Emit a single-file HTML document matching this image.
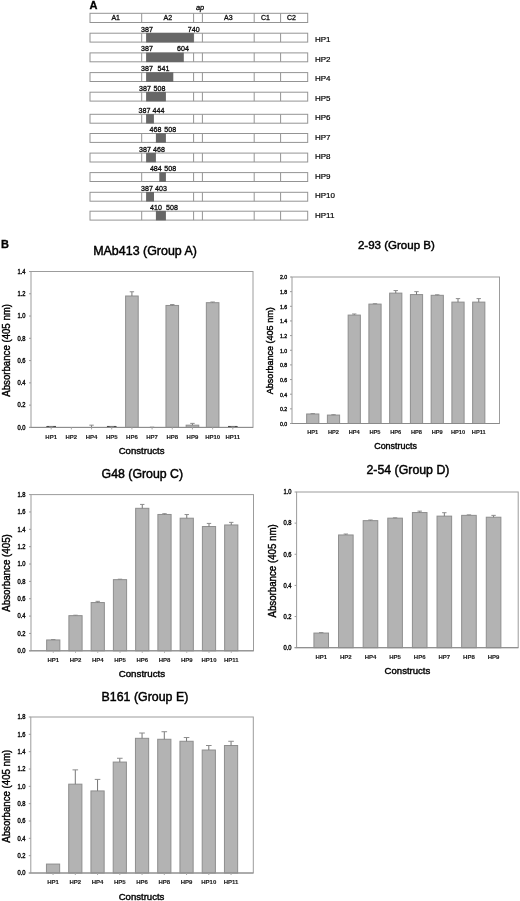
<!DOCTYPE html>
<html><head><meta charset="utf-8"><title>Figure</title>
<style>
html,body{margin:0;padding:0;background:#fff;}
body{width:520px;height:901px;overflow:hidden;}
svg{display:block;font-family:"Liberation Sans", sans-serif;filter:grayscale(1);}
text{-webkit-font-smoothing:antialiased;}
</style></head>
<body>
<svg width="520" height="901" viewBox="0 0 520 901" shape-rendering="auto">
<rect x="0" y="0" width="520" height="901" fill="#fff"/>
<text x="89.60" y="9.00" font-size="11" text-anchor="start" stroke="#000" stroke-width="0.3" font-weight="bold" fill="#000">A</text>
<text x="200.00" y="9.70" font-size="7.4" text-anchor="middle" stroke="#111" stroke-width="0.3" font-style="italic">ap</text>
<rect x="90.00" y="13.30" width="217.70" height="9.20" fill="none" stroke="#949494" stroke-width="1"/>
<line x1="141.70" y1="13.30" x2="141.70" y2="22.50" stroke="#949494" stroke-width="1"/>
<line x1="193.60" y1="13.30" x2="193.60" y2="22.50" stroke="#949494" stroke-width="1"/>
<line x1="202.40" y1="13.30" x2="202.40" y2="22.50" stroke="#949494" stroke-width="1"/>
<line x1="254.20" y1="13.30" x2="254.20" y2="22.50" stroke="#949494" stroke-width="1"/>
<line x1="280.60" y1="13.30" x2="280.60" y2="22.50" stroke="#949494" stroke-width="1"/>
<text x="115.70" y="20.40" font-size="7" text-anchor="middle" stroke="#111" stroke-width="0.3">A1</text>
<text x="167.80" y="20.40" font-size="7" text-anchor="middle" stroke="#111" stroke-width="0.3">A2</text>
<text x="228.40" y="20.40" font-size="7" text-anchor="middle" stroke="#111" stroke-width="0.3">A3</text>
<text x="265.40" y="20.40" font-size="7" text-anchor="middle" stroke="#111" stroke-width="0.3">C1</text>
<text x="291.40" y="20.40" font-size="7" text-anchor="middle" stroke="#111" stroke-width="0.3">C2</text>
<rect x="90.00" y="33.20" width="217.70" height="8.90" fill="none" stroke="#949494" stroke-width="1"/>
<line x1="141.70" y1="33.20" x2="141.70" y2="42.10" stroke="#949494" stroke-width="1"/>
<line x1="193.60" y1="33.20" x2="193.60" y2="42.10" stroke="#949494" stroke-width="1"/>
<line x1="202.40" y1="33.20" x2="202.40" y2="42.10" stroke="#949494" stroke-width="1"/>
<line x1="254.20" y1="33.20" x2="254.20" y2="42.10" stroke="#949494" stroke-width="1"/>
<line x1="280.60" y1="33.20" x2="280.60" y2="42.10" stroke="#949494" stroke-width="1"/>
<rect x="146.10" y="32.90" width="47.70" height="9.50" fill="#676767" stroke="none" stroke-width="1"/>
<text x="141.00" y="31.60" font-size="7.1" text-anchor="start" stroke="#111" stroke-width="0.3">387</text>
<text x="187.80" y="31.60" font-size="7.1" text-anchor="start" stroke="#111" stroke-width="0.3">740</text>
<text x="315.00" y="42.15" font-size="8.0" text-anchor="start" stroke="#000" stroke-width="0.2" fill="#000">HP1</text>
<rect x="90.00" y="52.90" width="217.70" height="8.90" fill="none" stroke="#949494" stroke-width="1"/>
<line x1="141.70" y1="52.90" x2="141.70" y2="61.80" stroke="#949494" stroke-width="1"/>
<line x1="193.60" y1="52.90" x2="193.60" y2="61.80" stroke="#949494" stroke-width="1"/>
<line x1="202.40" y1="52.90" x2="202.40" y2="61.80" stroke="#949494" stroke-width="1"/>
<line x1="254.20" y1="52.90" x2="254.20" y2="61.80" stroke="#949494" stroke-width="1"/>
<line x1="280.60" y1="52.90" x2="280.60" y2="61.80" stroke="#949494" stroke-width="1"/>
<rect x="146.10" y="52.60" width="37.70" height="9.50" fill="#676767" stroke="none" stroke-width="1"/>
<text x="141.00" y="51.30" font-size="7.1" text-anchor="start" stroke="#111" stroke-width="0.3">387</text>
<text x="177.00" y="51.30" font-size="7.1" text-anchor="start" stroke="#111" stroke-width="0.3">604</text>
<text x="315.00" y="61.67" font-size="8.0" text-anchor="start" stroke="#000" stroke-width="0.2" fill="#000">HP2</text>
<rect x="90.00" y="72.60" width="217.70" height="8.90" fill="none" stroke="#949494" stroke-width="1"/>
<line x1="141.70" y1="72.60" x2="141.70" y2="81.50" stroke="#949494" stroke-width="1"/>
<line x1="193.60" y1="72.60" x2="193.60" y2="81.50" stroke="#949494" stroke-width="1"/>
<line x1="202.40" y1="72.60" x2="202.40" y2="81.50" stroke="#949494" stroke-width="1"/>
<line x1="254.20" y1="72.60" x2="254.20" y2="81.50" stroke="#949494" stroke-width="1"/>
<line x1="280.60" y1="72.60" x2="280.60" y2="81.50" stroke="#949494" stroke-width="1"/>
<rect x="146.10" y="72.30" width="27.20" height="9.50" fill="#676767" stroke="none" stroke-width="1"/>
<text x="141.00" y="71.00" font-size="7.1" text-anchor="start" stroke="#111" stroke-width="0.3">387</text>
<text x="157.50" y="71.00" font-size="7.1" text-anchor="start" stroke="#111" stroke-width="0.3">541</text>
<text x="315.00" y="81.19" font-size="8.0" text-anchor="start" stroke="#000" stroke-width="0.2" fill="#000">HP4</text>
<rect x="90.00" y="92.20" width="217.70" height="8.90" fill="none" stroke="#949494" stroke-width="1"/>
<line x1="141.70" y1="92.20" x2="141.70" y2="101.10" stroke="#949494" stroke-width="1"/>
<line x1="193.60" y1="92.20" x2="193.60" y2="101.10" stroke="#949494" stroke-width="1"/>
<line x1="202.40" y1="92.20" x2="202.40" y2="101.10" stroke="#949494" stroke-width="1"/>
<line x1="254.20" y1="92.20" x2="254.20" y2="101.10" stroke="#949494" stroke-width="1"/>
<line x1="280.60" y1="92.20" x2="280.60" y2="101.10" stroke="#949494" stroke-width="1"/>
<rect x="146.10" y="91.90" width="19.80" height="9.50" fill="#676767" stroke="none" stroke-width="1"/>
<text x="139.00" y="90.60" font-size="7.1" text-anchor="start" stroke="#111" stroke-width="0.3">387</text>
<text x="153.50" y="90.60" font-size="7.1" text-anchor="start" stroke="#111" stroke-width="0.3">508</text>
<text x="315.00" y="100.71" font-size="8.0" text-anchor="start" stroke="#000" stroke-width="0.2" fill="#000">HP5</text>
<rect x="90.00" y="114.30" width="217.70" height="8.90" fill="none" stroke="#949494" stroke-width="1"/>
<line x1="141.70" y1="114.30" x2="141.70" y2="123.20" stroke="#949494" stroke-width="1"/>
<line x1="193.60" y1="114.30" x2="193.60" y2="123.20" stroke="#949494" stroke-width="1"/>
<line x1="202.40" y1="114.30" x2="202.40" y2="123.20" stroke="#949494" stroke-width="1"/>
<line x1="254.20" y1="114.30" x2="254.20" y2="123.20" stroke="#949494" stroke-width="1"/>
<line x1="280.60" y1="114.30" x2="280.60" y2="123.20" stroke="#949494" stroke-width="1"/>
<rect x="146.10" y="114.00" width="7.80" height="9.50" fill="#676767" stroke="none" stroke-width="1"/>
<text x="138.60" y="112.70" font-size="7.1" text-anchor="start" stroke="#111" stroke-width="0.3">387</text>
<text x="152.60" y="112.70" font-size="7.1" text-anchor="start" stroke="#111" stroke-width="0.3">444</text>
<text x="315.00" y="120.23" font-size="8.0" text-anchor="start" stroke="#000" stroke-width="0.2" fill="#000">HP6</text>
<rect x="90.00" y="133.50" width="217.70" height="8.90" fill="none" stroke="#949494" stroke-width="1"/>
<line x1="141.70" y1="133.50" x2="141.70" y2="142.40" stroke="#949494" stroke-width="1"/>
<line x1="193.60" y1="133.50" x2="193.60" y2="142.40" stroke="#949494" stroke-width="1"/>
<line x1="202.40" y1="133.50" x2="202.40" y2="142.40" stroke="#949494" stroke-width="1"/>
<line x1="254.20" y1="133.50" x2="254.20" y2="142.40" stroke="#949494" stroke-width="1"/>
<line x1="280.60" y1="133.50" x2="280.60" y2="142.40" stroke="#949494" stroke-width="1"/>
<rect x="155.90" y="133.20" width="10.00" height="9.50" fill="#676767" stroke="none" stroke-width="1"/>
<text x="149.50" y="131.90" font-size="7.1" text-anchor="start" stroke="#111" stroke-width="0.3">468</text>
<text x="164.30" y="131.90" font-size="7.1" text-anchor="start" stroke="#111" stroke-width="0.3">508</text>
<text x="315.00" y="139.75" font-size="8.0" text-anchor="start" stroke="#000" stroke-width="0.2" fill="#000">HP7</text>
<rect x="90.00" y="153.10" width="217.70" height="8.90" fill="none" stroke="#949494" stroke-width="1"/>
<line x1="141.70" y1="153.10" x2="141.70" y2="162.00" stroke="#949494" stroke-width="1"/>
<line x1="193.60" y1="153.10" x2="193.60" y2="162.00" stroke="#949494" stroke-width="1"/>
<line x1="202.40" y1="153.10" x2="202.40" y2="162.00" stroke="#949494" stroke-width="1"/>
<line x1="254.20" y1="153.10" x2="254.20" y2="162.00" stroke="#949494" stroke-width="1"/>
<line x1="280.60" y1="153.10" x2="280.60" y2="162.00" stroke="#949494" stroke-width="1"/>
<rect x="146.10" y="152.80" width="9.80" height="9.50" fill="#676767" stroke="none" stroke-width="1"/>
<text x="139.00" y="151.50" font-size="7.1" text-anchor="start" stroke="#111" stroke-width="0.3">387</text>
<text x="153.00" y="151.50" font-size="7.1" text-anchor="start" stroke="#111" stroke-width="0.3">468</text>
<text x="315.00" y="159.27" font-size="8.0" text-anchor="start" stroke="#000" stroke-width="0.2" fill="#000">HP8</text>
<rect x="90.00" y="172.60" width="217.70" height="8.90" fill="none" stroke="#949494" stroke-width="1"/>
<line x1="141.70" y1="172.60" x2="141.70" y2="181.50" stroke="#949494" stroke-width="1"/>
<line x1="193.60" y1="172.60" x2="193.60" y2="181.50" stroke="#949494" stroke-width="1"/>
<line x1="202.40" y1="172.60" x2="202.40" y2="181.50" stroke="#949494" stroke-width="1"/>
<line x1="254.20" y1="172.60" x2="254.20" y2="181.50" stroke="#949494" stroke-width="1"/>
<line x1="280.60" y1="172.60" x2="280.60" y2="181.50" stroke="#949494" stroke-width="1"/>
<rect x="159.30" y="172.30" width="6.60" height="9.50" fill="#676767" stroke="none" stroke-width="1"/>
<text x="149.90" y="171.00" font-size="7.1" text-anchor="start" stroke="#111" stroke-width="0.3">484</text>
<text x="164.30" y="171.00" font-size="7.1" text-anchor="start" stroke="#111" stroke-width="0.3">508</text>
<text x="315.00" y="178.79" font-size="8.0" text-anchor="start" stroke="#000" stroke-width="0.2" fill="#000">HP9</text>
<rect x="90.00" y="192.30" width="217.70" height="8.90" fill="none" stroke="#949494" stroke-width="1"/>
<line x1="141.70" y1="192.30" x2="141.70" y2="201.20" stroke="#949494" stroke-width="1"/>
<line x1="193.60" y1="192.30" x2="193.60" y2="201.20" stroke="#949494" stroke-width="1"/>
<line x1="202.40" y1="192.30" x2="202.40" y2="201.20" stroke="#949494" stroke-width="1"/>
<line x1="254.20" y1="192.30" x2="254.20" y2="201.20" stroke="#949494" stroke-width="1"/>
<line x1="280.60" y1="192.30" x2="280.60" y2="201.20" stroke="#949494" stroke-width="1"/>
<rect x="146.10" y="192.00" width="7.90" height="9.50" fill="#676767" stroke="none" stroke-width="1"/>
<text x="141.00" y="190.70" font-size="7.1" text-anchor="start" stroke="#111" stroke-width="0.3">387</text>
<text x="155.00" y="190.70" font-size="7.1" text-anchor="start" stroke="#111" stroke-width="0.3">403</text>
<text x="315.00" y="198.31" font-size="8.0" text-anchor="start" stroke="#000" stroke-width="0.2" fill="#000">HP10</text>
<rect x="90.00" y="211.20" width="217.70" height="8.90" fill="none" stroke="#949494" stroke-width="1"/>
<line x1="141.70" y1="211.20" x2="141.70" y2="220.10" stroke="#949494" stroke-width="1"/>
<line x1="193.60" y1="211.20" x2="193.60" y2="220.10" stroke="#949494" stroke-width="1"/>
<line x1="202.40" y1="211.20" x2="202.40" y2="220.10" stroke="#949494" stroke-width="1"/>
<line x1="254.20" y1="211.20" x2="254.20" y2="220.10" stroke="#949494" stroke-width="1"/>
<line x1="280.60" y1="211.20" x2="280.60" y2="220.10" stroke="#949494" stroke-width="1"/>
<rect x="155.90" y="210.90" width="10.00" height="9.50" fill="#676767" stroke="none" stroke-width="1"/>
<text x="150.00" y="209.60" font-size="7.1" text-anchor="start" stroke="#111" stroke-width="0.3">410</text>
<text x="166.00" y="209.60" font-size="7.1" text-anchor="start" stroke="#111" stroke-width="0.3">508</text>
<text x="315.00" y="217.83" font-size="8.0" text-anchor="start" stroke="#000" stroke-width="0.2" fill="#000">HP11</text>
<text x="1.00" y="248.00" font-size="11" text-anchor="start" stroke="#000" stroke-width="0.3" font-weight="bold" fill="#000">B</text>
<line x1="46.38" y1="426.70" x2="55.98" y2="426.70" stroke="#3a3a3a" stroke-width="1.5"/>
<line x1="51.18" y1="426.95" x2="51.18" y2="426.73" stroke="#767676" stroke-width="1"/>
<line x1="48.98" y1="426.73" x2="53.38" y2="426.73" stroke="#8c8c8c" stroke-width="1"/>
<line x1="91.55" y1="427.40" x2="91.55" y2="425.17" stroke="#767676" stroke-width="1"/>
<line x1="89.35" y1="425.17" x2="93.75" y2="425.17" stroke="#8c8c8c" stroke-width="1"/>
<line x1="106.93" y1="426.70" x2="116.53" y2="426.70" stroke="#3a3a3a" stroke-width="1.5"/>
<line x1="111.73" y1="426.95" x2="111.73" y2="426.73" stroke="#767676" stroke-width="1"/>
<line x1="109.53" y1="426.73" x2="113.93" y2="426.73" stroke="#8c8c8c" stroke-width="1"/>
<rect x="125.61" y="296.00" width="12.60" height="131.40" fill="#b3b3b3" stroke="#8e8e8e" stroke-width="1"/>
<line x1="131.91" y1="296.00" x2="131.91" y2="291.77" stroke="#767676" stroke-width="1"/>
<line x1="129.71" y1="291.77" x2="134.11" y2="291.77" stroke="#8c8c8c" stroke-width="1"/>
<line x1="152.09" y1="427.40" x2="152.09" y2="427.18" stroke="#767676" stroke-width="1"/>
<line x1="149.89" y1="427.18" x2="154.29" y2="427.18" stroke="#8c8c8c" stroke-width="1"/>
<rect x="165.97" y="305.46" width="12.60" height="121.94" fill="#b3b3b3" stroke="#8e8e8e" stroke-width="1"/>
<line x1="172.27" y1="305.46" x2="172.27" y2="304.57" stroke="#767676" stroke-width="1"/>
<line x1="170.07" y1="304.57" x2="174.47" y2="304.57" stroke="#8c8c8c" stroke-width="1"/>
<rect x="186.15" y="425.17" width="12.60" height="2.23" fill="#b3b3b3" stroke="#8e8e8e" stroke-width="1"/>
<line x1="192.45" y1="425.17" x2="192.45" y2="423.39" stroke="#767676" stroke-width="1"/>
<line x1="190.25" y1="423.39" x2="194.65" y2="423.39" stroke="#8c8c8c" stroke-width="1"/>
<rect x="206.34" y="302.68" width="12.60" height="124.72" fill="#b3b3b3" stroke="#8e8e8e" stroke-width="1"/>
<line x1="212.64" y1="302.68" x2="212.64" y2="302.01" stroke="#767676" stroke-width="1"/>
<line x1="210.44" y1="302.01" x2="214.84" y2="302.01" stroke="#8c8c8c" stroke-width="1"/>
<line x1="228.02" y1="426.70" x2="237.62" y2="426.70" stroke="#3a3a3a" stroke-width="1.5"/>
<line x1="232.82" y1="427.07" x2="232.82" y2="426.84" stroke="#767676" stroke-width="1"/>
<line x1="230.62" y1="426.84" x2="235.02" y2="426.84" stroke="#8c8c8c" stroke-width="1"/>
<rect x="31.00" y="271.50" width="222.00" height="155.90" fill="none" stroke="#9c9c9c" stroke-width="1"/>
<line x1="29.00" y1="427.40" x2="253.00" y2="427.40" stroke="#8a8a8a" stroke-width="1"/>
<line x1="29.00" y1="427.40" x2="31.00" y2="427.40" stroke="#9c9c9c" stroke-width="1"/>
<text x="25.60" y="429.70" font-size="6.6" text-anchor="end" stroke="#111" stroke-width="0.4" textLength="8.07" lengthAdjust="spacingAndGlyphs">0.0</text>
<line x1="29.00" y1="405.13" x2="31.00" y2="405.13" stroke="#9c9c9c" stroke-width="1"/>
<text x="25.60" y="407.43" font-size="6.6" text-anchor="end" stroke="#111" stroke-width="0.4" textLength="8.07" lengthAdjust="spacingAndGlyphs">0.2</text>
<line x1="29.00" y1="382.86" x2="31.00" y2="382.86" stroke="#9c9c9c" stroke-width="1"/>
<text x="25.60" y="385.16" font-size="6.6" text-anchor="end" stroke="#111" stroke-width="0.4" textLength="8.07" lengthAdjust="spacingAndGlyphs">0.4</text>
<line x1="29.00" y1="360.59" x2="31.00" y2="360.59" stroke="#9c9c9c" stroke-width="1"/>
<text x="25.60" y="362.89" font-size="6.6" text-anchor="end" stroke="#111" stroke-width="0.4" textLength="8.07" lengthAdjust="spacingAndGlyphs">0.6</text>
<line x1="29.00" y1="338.31" x2="31.00" y2="338.31" stroke="#9c9c9c" stroke-width="1"/>
<text x="25.60" y="340.61" font-size="6.6" text-anchor="end" stroke="#111" stroke-width="0.4" textLength="8.07" lengthAdjust="spacingAndGlyphs">0.8</text>
<line x1="29.00" y1="316.04" x2="31.00" y2="316.04" stroke="#9c9c9c" stroke-width="1"/>
<text x="25.60" y="318.34" font-size="6.6" text-anchor="end" stroke="#111" stroke-width="0.4" textLength="8.07" lengthAdjust="spacingAndGlyphs">1.0</text>
<line x1="29.00" y1="293.77" x2="31.00" y2="293.77" stroke="#9c9c9c" stroke-width="1"/>
<text x="25.60" y="296.07" font-size="6.6" text-anchor="end" stroke="#111" stroke-width="0.4" textLength="8.07" lengthAdjust="spacingAndGlyphs">1.2</text>
<line x1="29.00" y1="271.50" x2="31.00" y2="271.50" stroke="#9c9c9c" stroke-width="1"/>
<text x="25.60" y="273.80" font-size="6.6" text-anchor="end" stroke="#111" stroke-width="0.4" textLength="8.07" lengthAdjust="spacingAndGlyphs">1.4</text>
<line x1="51.18" y1="427.40" x2="51.18" y2="429.40" stroke="#a8a8a8" stroke-width="1"/>
<text x="51.18" y="438.50" font-size="6.0" text-anchor="middle" stroke="#222" stroke-width="0.12" font-weight="bold" fill="#222">HP1</text>
<line x1="71.36" y1="427.40" x2="71.36" y2="429.40" stroke="#a8a8a8" stroke-width="1"/>
<text x="71.36" y="438.50" font-size="6.0" text-anchor="middle" stroke="#222" stroke-width="0.12" font-weight="bold" fill="#222">HP2</text>
<line x1="91.55" y1="427.40" x2="91.55" y2="429.40" stroke="#a8a8a8" stroke-width="1"/>
<text x="91.55" y="438.50" font-size="6.0" text-anchor="middle" stroke="#222" stroke-width="0.12" font-weight="bold" fill="#222">HP4</text>
<line x1="111.73" y1="427.40" x2="111.73" y2="429.40" stroke="#a8a8a8" stroke-width="1"/>
<text x="111.73" y="438.50" font-size="6.0" text-anchor="middle" stroke="#222" stroke-width="0.12" font-weight="bold" fill="#222">HP5</text>
<line x1="131.91" y1="427.40" x2="131.91" y2="429.40" stroke="#a8a8a8" stroke-width="1"/>
<text x="131.91" y="438.50" font-size="6.0" text-anchor="middle" stroke="#222" stroke-width="0.12" font-weight="bold" fill="#222">HP6</text>
<line x1="152.09" y1="427.40" x2="152.09" y2="429.40" stroke="#a8a8a8" stroke-width="1"/>
<text x="152.09" y="438.50" font-size="6.0" text-anchor="middle" stroke="#222" stroke-width="0.12" font-weight="bold" fill="#222">HP7</text>
<line x1="172.27" y1="427.40" x2="172.27" y2="429.40" stroke="#a8a8a8" stroke-width="1"/>
<text x="172.27" y="438.50" font-size="6.0" text-anchor="middle" stroke="#222" stroke-width="0.12" font-weight="bold" fill="#222">HP8</text>
<line x1="192.45" y1="427.40" x2="192.45" y2="429.40" stroke="#a8a8a8" stroke-width="1"/>
<text x="192.45" y="438.50" font-size="6.0" text-anchor="middle" stroke="#222" stroke-width="0.12" font-weight="bold" fill="#222">HP9</text>
<line x1="212.64" y1="427.40" x2="212.64" y2="429.40" stroke="#a8a8a8" stroke-width="1"/>
<text x="212.64" y="438.50" font-size="6.0" text-anchor="middle" stroke="#222" stroke-width="0.12" font-weight="bold" fill="#222">HP10</text>
<line x1="232.82" y1="427.40" x2="232.82" y2="429.40" stroke="#a8a8a8" stroke-width="1"/>
<text x="232.82" y="438.50" font-size="6.0" text-anchor="middle" stroke="#222" stroke-width="0.12" font-weight="bold" fill="#222">HP11</text>
<text x="145.10" y="255.30" font-size="12.3" text-anchor="middle" stroke="#000" stroke-width="0.45" fill="#000" textLength="103.80" lengthAdjust="spacingAndGlyphs">MAb413 (Group A)</text>
<text x="141.60" y="454.00" font-size="9.6" text-anchor="middle" stroke="#000" stroke-width="0.4" fill="#000" textLength="45.80" lengthAdjust="spacingAndGlyphs">Constructs</text>
<text x="10.00" y="350.35" font-size="10.1" text-anchor="middle" stroke="#000" stroke-width="0.4" fill="#000" textLength="92.70" lengthAdjust="spacingAndGlyphs" transform="rotate(-90 10.00 350.35)">Absorbance (405 nm)</text>
<rect x="306.65" y="413.98" width="12.20" height="9.52" fill="#b3b3b3" stroke="#8e8e8e" stroke-width="1"/>
<line x1="312.75" y1="413.98" x2="312.75" y2="413.61" stroke="#767676" stroke-width="1"/>
<line x1="310.55" y1="413.61" x2="314.95" y2="413.61" stroke="#8c8c8c" stroke-width="1"/>
<rect x="327.40" y="415.08" width="12.20" height="8.42" fill="#b3b3b3" stroke="#8e8e8e" stroke-width="1"/>
<line x1="333.50" y1="415.08" x2="333.50" y2="414.71" stroke="#767676" stroke-width="1"/>
<line x1="331.30" y1="414.71" x2="335.70" y2="414.71" stroke="#8c8c8c" stroke-width="1"/>
<rect x="348.15" y="315.09" width="12.20" height="108.41" fill="#b3b3b3" stroke="#8e8e8e" stroke-width="1"/>
<line x1="354.25" y1="315.09" x2="354.25" y2="313.99" stroke="#767676" stroke-width="1"/>
<line x1="352.05" y1="313.99" x2="356.45" y2="313.99" stroke="#8c8c8c" stroke-width="1"/>
<rect x="368.90" y="304.10" width="12.20" height="119.40" fill="#b3b3b3" stroke="#8e8e8e" stroke-width="1"/>
<line x1="375.00" y1="304.10" x2="375.00" y2="303.74" stroke="#767676" stroke-width="1"/>
<line x1="372.80" y1="303.74" x2="377.20" y2="303.74" stroke="#8c8c8c" stroke-width="1"/>
<rect x="389.65" y="293.12" width="12.20" height="130.38" fill="#b3b3b3" stroke="#8e8e8e" stroke-width="1"/>
<line x1="395.75" y1="293.12" x2="395.75" y2="290.55" stroke="#767676" stroke-width="1"/>
<line x1="393.55" y1="290.55" x2="397.95" y2="290.55" stroke="#8c8c8c" stroke-width="1"/>
<rect x="410.40" y="294.58" width="12.20" height="128.92" fill="#b3b3b3" stroke="#8e8e8e" stroke-width="1"/>
<line x1="416.50" y1="294.58" x2="416.50" y2="291.65" stroke="#767676" stroke-width="1"/>
<line x1="414.30" y1="291.65" x2="418.70" y2="291.65" stroke="#8c8c8c" stroke-width="1"/>
<rect x="431.15" y="295.31" width="12.20" height="128.19" fill="#b3b3b3" stroke="#8e8e8e" stroke-width="1"/>
<line x1="437.25" y1="295.31" x2="437.25" y2="294.80" stroke="#767676" stroke-width="1"/>
<line x1="435.05" y1="294.80" x2="439.45" y2="294.80" stroke="#8c8c8c" stroke-width="1"/>
<rect x="451.90" y="302.12" width="12.20" height="121.38" fill="#b3b3b3" stroke="#8e8e8e" stroke-width="1"/>
<line x1="458.00" y1="302.12" x2="458.00" y2="298.61" stroke="#767676" stroke-width="1"/>
<line x1="455.80" y1="298.61" x2="460.20" y2="298.61" stroke="#8c8c8c" stroke-width="1"/>
<rect x="472.65" y="302.12" width="12.20" height="121.38" fill="#b3b3b3" stroke="#8e8e8e" stroke-width="1"/>
<line x1="478.75" y1="302.12" x2="478.75" y2="298.61" stroke="#767676" stroke-width="1"/>
<line x1="476.55" y1="298.61" x2="480.95" y2="298.61" stroke="#8c8c8c" stroke-width="1"/>
<rect x="292.00" y="277.00" width="207.50" height="146.50" fill="none" stroke="#9c9c9c" stroke-width="1"/>
<line x1="290.00" y1="423.50" x2="499.50" y2="423.50" stroke="#8a8a8a" stroke-width="1"/>
<line x1="290.00" y1="423.50" x2="292.00" y2="423.50" stroke="#9c9c9c" stroke-width="1"/>
<text x="287.20" y="425.80" font-size="5.9" text-anchor="end" stroke="#111" stroke-width="0.4" textLength="7.22" lengthAdjust="spacingAndGlyphs">0.0</text>
<line x1="290.00" y1="408.85" x2="292.00" y2="408.85" stroke="#9c9c9c" stroke-width="1"/>
<text x="287.20" y="411.15" font-size="5.9" text-anchor="end" stroke="#111" stroke-width="0.4" textLength="7.22" lengthAdjust="spacingAndGlyphs">0.2</text>
<line x1="290.00" y1="394.20" x2="292.00" y2="394.20" stroke="#9c9c9c" stroke-width="1"/>
<text x="287.20" y="396.50" font-size="5.9" text-anchor="end" stroke="#111" stroke-width="0.4" textLength="7.22" lengthAdjust="spacingAndGlyphs">0.4</text>
<line x1="290.00" y1="379.55" x2="292.00" y2="379.55" stroke="#9c9c9c" stroke-width="1"/>
<text x="287.20" y="381.85" font-size="5.9" text-anchor="end" stroke="#111" stroke-width="0.4" textLength="7.22" lengthAdjust="spacingAndGlyphs">0.6</text>
<line x1="290.00" y1="364.90" x2="292.00" y2="364.90" stroke="#9c9c9c" stroke-width="1"/>
<text x="287.20" y="367.20" font-size="5.9" text-anchor="end" stroke="#111" stroke-width="0.4" textLength="7.22" lengthAdjust="spacingAndGlyphs">0.8</text>
<line x1="290.00" y1="350.25" x2="292.00" y2="350.25" stroke="#9c9c9c" stroke-width="1"/>
<text x="287.20" y="352.55" font-size="5.9" text-anchor="end" stroke="#111" stroke-width="0.4" textLength="7.22" lengthAdjust="spacingAndGlyphs">1.0</text>
<line x1="290.00" y1="335.60" x2="292.00" y2="335.60" stroke="#9c9c9c" stroke-width="1"/>
<text x="287.20" y="337.90" font-size="5.9" text-anchor="end" stroke="#111" stroke-width="0.4" textLength="7.22" lengthAdjust="spacingAndGlyphs">1.2</text>
<line x1="290.00" y1="320.95" x2="292.00" y2="320.95" stroke="#9c9c9c" stroke-width="1"/>
<text x="287.20" y="323.25" font-size="5.9" text-anchor="end" stroke="#111" stroke-width="0.4" textLength="7.22" lengthAdjust="spacingAndGlyphs">1.4</text>
<line x1="290.00" y1="306.30" x2="292.00" y2="306.30" stroke="#9c9c9c" stroke-width="1"/>
<text x="287.20" y="308.60" font-size="5.9" text-anchor="end" stroke="#111" stroke-width="0.4" textLength="7.22" lengthAdjust="spacingAndGlyphs">1.6</text>
<line x1="290.00" y1="291.65" x2="292.00" y2="291.65" stroke="#9c9c9c" stroke-width="1"/>
<text x="287.20" y="293.95" font-size="5.9" text-anchor="end" stroke="#111" stroke-width="0.4" textLength="7.22" lengthAdjust="spacingAndGlyphs">1.8</text>
<line x1="290.00" y1="277.00" x2="292.00" y2="277.00" stroke="#9c9c9c" stroke-width="1"/>
<text x="287.20" y="279.30" font-size="5.9" text-anchor="end" stroke="#111" stroke-width="0.4" textLength="7.22" lengthAdjust="spacingAndGlyphs">2.0</text>
<text x="312.75" y="433.60" font-size="5.7" text-anchor="middle" stroke="#222" stroke-width="0.12" font-weight="bold" fill="#222">HP1</text>
<text x="333.50" y="433.60" font-size="5.7" text-anchor="middle" stroke="#222" stroke-width="0.12" font-weight="bold" fill="#222">HP2</text>
<text x="354.25" y="433.60" font-size="5.7" text-anchor="middle" stroke="#222" stroke-width="0.12" font-weight="bold" fill="#222">HP4</text>
<text x="375.00" y="433.60" font-size="5.7" text-anchor="middle" stroke="#222" stroke-width="0.12" font-weight="bold" fill="#222">HP5</text>
<text x="395.75" y="433.60" font-size="5.7" text-anchor="middle" stroke="#222" stroke-width="0.12" font-weight="bold" fill="#222">HP6</text>
<text x="416.50" y="433.60" font-size="5.7" text-anchor="middle" stroke="#222" stroke-width="0.12" font-weight="bold" fill="#222">HP8</text>
<text x="437.25" y="433.60" font-size="5.7" text-anchor="middle" stroke="#222" stroke-width="0.12" font-weight="bold" fill="#222">HP9</text>
<text x="458.00" y="433.60" font-size="5.7" text-anchor="middle" stroke="#222" stroke-width="0.12" font-weight="bold" fill="#222">HP10</text>
<text x="478.75" y="433.60" font-size="5.7" text-anchor="middle" stroke="#222" stroke-width="0.12" font-weight="bold" fill="#222">HP11</text>
<text x="396.35" y="248.70" font-size="11.5" text-anchor="middle" stroke="#000" stroke-width="0.45" fill="#000" textLength="76.90" lengthAdjust="spacingAndGlyphs">2-93 (Group B)</text>
<text x="395.55" y="448.50" font-size="8.9" text-anchor="middle" stroke="#000" stroke-width="0.4" fill="#000" textLength="42.70" lengthAdjust="spacingAndGlyphs">Constructs</text>
<text x="273.20" y="350.75" font-size="9.0" text-anchor="middle" stroke="#000" stroke-width="0.4" fill="#000" textLength="86.90" lengthAdjust="spacingAndGlyphs" transform="rotate(-90 273.20 350.75)">Absorbance (405 nm)</text>
<rect x="46.65" y="639.95" width="13.20" height="10.85" fill="#b3b3b3" stroke="#8e8e8e" stroke-width="1"/>
<line x1="53.25" y1="639.95" x2="53.25" y2="639.52" stroke="#767676" stroke-width="1"/>
<line x1="51.05" y1="639.52" x2="55.45" y2="639.52" stroke="#8c8c8c" stroke-width="1"/>
<rect x="68.90" y="615.65" width="13.20" height="35.14" fill="#b3b3b3" stroke="#8e8e8e" stroke-width="1"/>
<line x1="75.50" y1="615.65" x2="75.50" y2="615.22" stroke="#767676" stroke-width="1"/>
<line x1="73.30" y1="615.22" x2="77.70" y2="615.22" stroke="#8c8c8c" stroke-width="1"/>
<rect x="91.15" y="602.55" width="13.20" height="48.25" fill="#b3b3b3" stroke="#8e8e8e" stroke-width="1"/>
<line x1="97.75" y1="602.55" x2="97.75" y2="601.34" stroke="#767676" stroke-width="1"/>
<line x1="95.55" y1="601.34" x2="99.95" y2="601.34" stroke="#8c8c8c" stroke-width="1"/>
<rect x="113.40" y="579.64" width="13.20" height="71.16" fill="#b3b3b3" stroke="#8e8e8e" stroke-width="1"/>
<line x1="120.00" y1="579.64" x2="120.00" y2="579.21" stroke="#767676" stroke-width="1"/>
<line x1="117.80" y1="579.21" x2="122.20" y2="579.21" stroke="#8c8c8c" stroke-width="1"/>
<rect x="135.65" y="508.31" width="13.20" height="142.49" fill="#b3b3b3" stroke="#8e8e8e" stroke-width="1"/>
<line x1="142.25" y1="508.31" x2="142.25" y2="504.41" stroke="#767676" stroke-width="1"/>
<line x1="140.05" y1="504.41" x2="144.45" y2="504.41" stroke="#8c8c8c" stroke-width="1"/>
<rect x="157.90" y="514.47" width="13.20" height="136.33" fill="#b3b3b3" stroke="#8e8e8e" stroke-width="1"/>
<line x1="164.50" y1="514.47" x2="164.50" y2="513.69" stroke="#767676" stroke-width="1"/>
<line x1="162.30" y1="513.69" x2="166.70" y2="513.69" stroke="#8c8c8c" stroke-width="1"/>
<rect x="180.15" y="518.20" width="13.20" height="132.60" fill="#b3b3b3" stroke="#8e8e8e" stroke-width="1"/>
<line x1="186.75" y1="518.20" x2="186.75" y2="514.56" stroke="#767676" stroke-width="1"/>
<line x1="184.55" y1="514.56" x2="188.95" y2="514.56" stroke="#8c8c8c" stroke-width="1"/>
<rect x="202.40" y="526.53" width="13.20" height="124.27" fill="#b3b3b3" stroke="#8e8e8e" stroke-width="1"/>
<line x1="209.00" y1="526.53" x2="209.00" y2="523.41" stroke="#767676" stroke-width="1"/>
<line x1="206.80" y1="523.41" x2="211.20" y2="523.41" stroke="#8c8c8c" stroke-width="1"/>
<rect x="224.65" y="524.97" width="13.20" height="125.83" fill="#b3b3b3" stroke="#8e8e8e" stroke-width="1"/>
<line x1="231.25" y1="524.97" x2="231.25" y2="522.37" stroke="#767676" stroke-width="1"/>
<line x1="229.05" y1="522.37" x2="233.45" y2="522.37" stroke="#8c8c8c" stroke-width="1"/>
<rect x="31.00" y="494.60" width="222.50" height="156.20" fill="none" stroke="#9c9c9c" stroke-width="1"/>
<line x1="29.00" y1="650.80" x2="253.50" y2="650.80" stroke="#8a8a8a" stroke-width="1"/>
<line x1="29.00" y1="650.80" x2="31.00" y2="650.80" stroke="#9c9c9c" stroke-width="1"/>
<text x="25.60" y="653.10" font-size="6.6" text-anchor="end" stroke="#111" stroke-width="0.4" textLength="8.07" lengthAdjust="spacingAndGlyphs">0.0</text>
<line x1="29.00" y1="633.44" x2="31.00" y2="633.44" stroke="#9c9c9c" stroke-width="1"/>
<text x="25.60" y="635.74" font-size="6.6" text-anchor="end" stroke="#111" stroke-width="0.4" textLength="8.07" lengthAdjust="spacingAndGlyphs">0.2</text>
<line x1="29.00" y1="616.09" x2="31.00" y2="616.09" stroke="#9c9c9c" stroke-width="1"/>
<text x="25.60" y="618.39" font-size="6.6" text-anchor="end" stroke="#111" stroke-width="0.4" textLength="8.07" lengthAdjust="spacingAndGlyphs">0.4</text>
<line x1="29.00" y1="598.73" x2="31.00" y2="598.73" stroke="#9c9c9c" stroke-width="1"/>
<text x="25.60" y="601.03" font-size="6.6" text-anchor="end" stroke="#111" stroke-width="0.4" textLength="8.07" lengthAdjust="spacingAndGlyphs">0.6</text>
<line x1="29.00" y1="581.38" x2="31.00" y2="581.38" stroke="#9c9c9c" stroke-width="1"/>
<text x="25.60" y="583.68" font-size="6.6" text-anchor="end" stroke="#111" stroke-width="0.4" textLength="8.07" lengthAdjust="spacingAndGlyphs">0.8</text>
<line x1="29.00" y1="564.02" x2="31.00" y2="564.02" stroke="#9c9c9c" stroke-width="1"/>
<text x="25.60" y="566.32" font-size="6.6" text-anchor="end" stroke="#111" stroke-width="0.4" textLength="8.07" lengthAdjust="spacingAndGlyphs">1.0</text>
<line x1="29.00" y1="546.67" x2="31.00" y2="546.67" stroke="#9c9c9c" stroke-width="1"/>
<text x="25.60" y="548.97" font-size="6.6" text-anchor="end" stroke="#111" stroke-width="0.4" textLength="8.07" lengthAdjust="spacingAndGlyphs">1.2</text>
<line x1="29.00" y1="529.31" x2="31.00" y2="529.31" stroke="#9c9c9c" stroke-width="1"/>
<text x="25.60" y="531.61" font-size="6.6" text-anchor="end" stroke="#111" stroke-width="0.4" textLength="8.07" lengthAdjust="spacingAndGlyphs">1.4</text>
<line x1="29.00" y1="511.96" x2="31.00" y2="511.96" stroke="#9c9c9c" stroke-width="1"/>
<text x="25.60" y="514.26" font-size="6.6" text-anchor="end" stroke="#111" stroke-width="0.4" textLength="8.07" lengthAdjust="spacingAndGlyphs">1.6</text>
<line x1="29.00" y1="494.60" x2="31.00" y2="494.60" stroke="#9c9c9c" stroke-width="1"/>
<text x="25.60" y="496.90" font-size="6.6" text-anchor="end" stroke="#111" stroke-width="0.4" textLength="8.07" lengthAdjust="spacingAndGlyphs">1.8</text>
<line x1="53.25" y1="650.80" x2="53.25" y2="652.80" stroke="#a8a8a8" stroke-width="1"/>
<text x="53.25" y="661.90" font-size="6.0" text-anchor="middle" stroke="#222" stroke-width="0.12" font-weight="bold" fill="#222">HP1</text>
<line x1="75.50" y1="650.80" x2="75.50" y2="652.80" stroke="#a8a8a8" stroke-width="1"/>
<text x="75.50" y="661.90" font-size="6.0" text-anchor="middle" stroke="#222" stroke-width="0.12" font-weight="bold" fill="#222">HP2</text>
<line x1="97.75" y1="650.80" x2="97.75" y2="652.80" stroke="#a8a8a8" stroke-width="1"/>
<text x="97.75" y="661.90" font-size="6.0" text-anchor="middle" stroke="#222" stroke-width="0.12" font-weight="bold" fill="#222">HP4</text>
<line x1="120.00" y1="650.80" x2="120.00" y2="652.80" stroke="#a8a8a8" stroke-width="1"/>
<text x="120.00" y="661.90" font-size="6.0" text-anchor="middle" stroke="#222" stroke-width="0.12" font-weight="bold" fill="#222">HP5</text>
<line x1="142.25" y1="650.80" x2="142.25" y2="652.80" stroke="#a8a8a8" stroke-width="1"/>
<text x="142.25" y="661.90" font-size="6.0" text-anchor="middle" stroke="#222" stroke-width="0.12" font-weight="bold" fill="#222">HP6</text>
<line x1="164.50" y1="650.80" x2="164.50" y2="652.80" stroke="#a8a8a8" stroke-width="1"/>
<text x="164.50" y="661.90" font-size="6.0" text-anchor="middle" stroke="#222" stroke-width="0.12" font-weight="bold" fill="#222">HP8</text>
<line x1="186.75" y1="650.80" x2="186.75" y2="652.80" stroke="#a8a8a8" stroke-width="1"/>
<text x="186.75" y="661.90" font-size="6.0" text-anchor="middle" stroke="#222" stroke-width="0.12" font-weight="bold" fill="#222">HP9</text>
<line x1="209.00" y1="650.80" x2="209.00" y2="652.80" stroke="#a8a8a8" stroke-width="1"/>
<text x="209.00" y="661.90" font-size="6.0" text-anchor="middle" stroke="#222" stroke-width="0.12" font-weight="bold" fill="#222">HP10</text>
<line x1="231.25" y1="650.80" x2="231.25" y2="652.80" stroke="#a8a8a8" stroke-width="1"/>
<text x="231.25" y="661.90" font-size="6.0" text-anchor="middle" stroke="#222" stroke-width="0.12" font-weight="bold" fill="#222">HP11</text>
<text x="142.30" y="478.30" font-size="12.3" text-anchor="middle" stroke="#000" stroke-width="0.45" fill="#000" textLength="81.40" lengthAdjust="spacingAndGlyphs">G48 (Group C)</text>
<text x="141.95" y="677.40" font-size="9.6" text-anchor="middle" stroke="#000" stroke-width="0.4" fill="#000" textLength="46.50" lengthAdjust="spacingAndGlyphs">Constructs</text>
<text x="9.60" y="572.95" font-size="10.2" text-anchor="middle" stroke="#000" stroke-width="0.4" fill="#000" textLength="77.50" lengthAdjust="spacingAndGlyphs" transform="rotate(-90 9.60 572.95)">Absorbance (405)</text>
<rect x="313.92" y="633.06" width="14.60" height="14.64" fill="#b3b3b3" stroke="#8e8e8e" stroke-width="1"/>
<line x1="321.22" y1="633.06" x2="321.22" y2="632.60" stroke="#767676" stroke-width="1"/>
<line x1="319.02" y1="632.60" x2="323.42" y2="632.60" stroke="#8c8c8c" stroke-width="1"/>
<rect x="338.54" y="534.97" width="14.60" height="112.73" fill="#b3b3b3" stroke="#8e8e8e" stroke-width="1"/>
<line x1="345.84" y1="534.97" x2="345.84" y2="534.04" stroke="#767676" stroke-width="1"/>
<line x1="343.64" y1="534.04" x2="348.04" y2="534.04" stroke="#8c8c8c" stroke-width="1"/>
<rect x="363.17" y="520.65" width="14.60" height="127.05" fill="#b3b3b3" stroke="#8e8e8e" stroke-width="1"/>
<line x1="370.47" y1="520.65" x2="370.47" y2="520.03" stroke="#767676" stroke-width="1"/>
<line x1="368.27" y1="520.03" x2="372.67" y2="520.03" stroke="#8c8c8c" stroke-width="1"/>
<rect x="387.79" y="518.16" width="14.60" height="129.54" fill="#b3b3b3" stroke="#8e8e8e" stroke-width="1"/>
<line x1="395.09" y1="518.16" x2="395.09" y2="517.85" stroke="#767676" stroke-width="1"/>
<line x1="392.89" y1="517.85" x2="397.29" y2="517.85" stroke="#8c8c8c" stroke-width="1"/>
<rect x="412.41" y="512.55" width="14.60" height="135.15" fill="#b3b3b3" stroke="#8e8e8e" stroke-width="1"/>
<line x1="419.71" y1="512.55" x2="419.71" y2="511.15" stroke="#767676" stroke-width="1"/>
<line x1="417.51" y1="511.15" x2="421.91" y2="511.15" stroke="#8c8c8c" stroke-width="1"/>
<rect x="437.03" y="516.13" width="14.60" height="131.57" fill="#b3b3b3" stroke="#8e8e8e" stroke-width="1"/>
<line x1="444.33" y1="516.13" x2="444.33" y2="512.71" stroke="#767676" stroke-width="1"/>
<line x1="442.13" y1="512.71" x2="446.53" y2="512.71" stroke="#8c8c8c" stroke-width="1"/>
<rect x="461.66" y="515.36" width="14.60" height="132.35" fill="#b3b3b3" stroke="#8e8e8e" stroke-width="1"/>
<line x1="468.96" y1="515.36" x2="468.96" y2="514.89" stroke="#767676" stroke-width="1"/>
<line x1="466.76" y1="514.89" x2="471.16" y2="514.89" stroke="#8c8c8c" stroke-width="1"/>
<rect x="486.28" y="517.22" width="14.60" height="130.48" fill="#b3b3b3" stroke="#8e8e8e" stroke-width="1"/>
<line x1="493.58" y1="517.22" x2="493.58" y2="515.36" stroke="#767676" stroke-width="1"/>
<line x1="491.38" y1="515.36" x2="495.78" y2="515.36" stroke="#8c8c8c" stroke-width="1"/>
<rect x="296.60" y="492.00" width="221.60" height="155.70" fill="none" stroke="#9c9c9c" stroke-width="1"/>
<line x1="294.60" y1="647.70" x2="518.20" y2="647.70" stroke="#8a8a8a" stroke-width="1"/>
<line x1="294.60" y1="647.70" x2="296.60" y2="647.70" stroke="#9c9c9c" stroke-width="1"/>
<text x="291.60" y="650.00" font-size="6.6" text-anchor="end" stroke="#111" stroke-width="0.4" textLength="8.07" lengthAdjust="spacingAndGlyphs">0.0</text>
<line x1="294.60" y1="616.56" x2="296.60" y2="616.56" stroke="#9c9c9c" stroke-width="1"/>
<text x="291.60" y="618.86" font-size="6.6" text-anchor="end" stroke="#111" stroke-width="0.4" textLength="8.07" lengthAdjust="spacingAndGlyphs">0.2</text>
<line x1="294.60" y1="585.42" x2="296.60" y2="585.42" stroke="#9c9c9c" stroke-width="1"/>
<text x="291.60" y="587.72" font-size="6.6" text-anchor="end" stroke="#111" stroke-width="0.4" textLength="8.07" lengthAdjust="spacingAndGlyphs">0.4</text>
<line x1="294.60" y1="554.28" x2="296.60" y2="554.28" stroke="#9c9c9c" stroke-width="1"/>
<text x="291.60" y="556.58" font-size="6.6" text-anchor="end" stroke="#111" stroke-width="0.4" textLength="8.07" lengthAdjust="spacingAndGlyphs">0.6</text>
<line x1="294.60" y1="523.14" x2="296.60" y2="523.14" stroke="#9c9c9c" stroke-width="1"/>
<text x="291.60" y="525.44" font-size="6.6" text-anchor="end" stroke="#111" stroke-width="0.4" textLength="8.07" lengthAdjust="spacingAndGlyphs">0.8</text>
<line x1="294.60" y1="492.00" x2="296.60" y2="492.00" stroke="#9c9c9c" stroke-width="1"/>
<text x="291.60" y="494.30" font-size="6.6" text-anchor="end" stroke="#111" stroke-width="0.4" textLength="8.07" lengthAdjust="spacingAndGlyphs">1.0</text>
<text x="321.22" y="658.70" font-size="6.0" text-anchor="middle" stroke="#222" stroke-width="0.12" font-weight="bold" fill="#222">HP1</text>
<text x="345.84" y="658.70" font-size="6.0" text-anchor="middle" stroke="#222" stroke-width="0.12" font-weight="bold" fill="#222">HP2</text>
<text x="370.47" y="658.70" font-size="6.0" text-anchor="middle" stroke="#222" stroke-width="0.12" font-weight="bold" fill="#222">HP4</text>
<text x="395.09" y="658.70" font-size="6.0" text-anchor="middle" stroke="#222" stroke-width="0.12" font-weight="bold" fill="#222">HP5</text>
<text x="419.71" y="658.70" font-size="6.0" text-anchor="middle" stroke="#222" stroke-width="0.12" font-weight="bold" fill="#222">HP6</text>
<text x="444.33" y="658.70" font-size="6.0" text-anchor="middle" stroke="#222" stroke-width="0.12" font-weight="bold" fill="#222">HP7</text>
<text x="468.96" y="658.70" font-size="6.0" text-anchor="middle" stroke="#222" stroke-width="0.12" font-weight="bold" fill="#222">HP8</text>
<text x="493.58" y="658.70" font-size="6.0" text-anchor="middle" stroke="#222" stroke-width="0.12" font-weight="bold" fill="#222">HP9</text>
<text x="407.95" y="474.40" font-size="12.3" text-anchor="middle" stroke="#000" stroke-width="0.45" fill="#000" textLength="82.90" lengthAdjust="spacingAndGlyphs">2-54 (Group D)</text>
<text x="407.45" y="674.40" font-size="9.6" text-anchor="middle" stroke="#000" stroke-width="0.4" fill="#000" textLength="45.70" lengthAdjust="spacingAndGlyphs">Constructs</text>
<text x="275.60" y="570.85" font-size="10.1" text-anchor="middle" stroke="#000" stroke-width="0.4" fill="#000" textLength="93.30" lengthAdjust="spacingAndGlyphs" transform="rotate(-90 275.60 570.85)">Absorbance (405 nm)</text>
<rect x="46.45" y="864.07" width="13.20" height="8.93" fill="#b3b3b3" stroke="#8e8e8e" stroke-width="1"/>
<rect x="68.70" y="784.17" width="13.20" height="88.83" fill="#b3b3b3" stroke="#8e8e8e" stroke-width="1"/>
<line x1="75.30" y1="784.17" x2="75.30" y2="769.87" stroke="#767676" stroke-width="1"/>
<line x1="72.50" y1="769.87" x2="78.10" y2="769.87" stroke="#8c8c8c" stroke-width="1"/>
<rect x="90.95" y="790.93" width="13.20" height="82.07" fill="#b3b3b3" stroke="#8e8e8e" stroke-width="1"/>
<line x1="97.55" y1="790.93" x2="97.55" y2="779.40" stroke="#767676" stroke-width="1"/>
<line x1="94.75" y1="779.40" x2="100.35" y2="779.40" stroke="#8c8c8c" stroke-width="1"/>
<rect x="113.20" y="762.07" width="13.20" height="110.93" fill="#b3b3b3" stroke="#8e8e8e" stroke-width="1"/>
<line x1="119.80" y1="762.07" x2="119.80" y2="758.25" stroke="#767676" stroke-width="1"/>
<line x1="117.00" y1="758.25" x2="122.60" y2="758.25" stroke="#8c8c8c" stroke-width="1"/>
<rect x="135.45" y="738.32" width="13.20" height="134.68" fill="#b3b3b3" stroke="#8e8e8e" stroke-width="1"/>
<line x1="142.05" y1="738.32" x2="142.05" y2="733.03" stroke="#767676" stroke-width="1"/>
<line x1="139.25" y1="733.03" x2="144.85" y2="733.03" stroke="#8c8c8c" stroke-width="1"/>
<rect x="157.70" y="739.27" width="13.20" height="133.73" fill="#b3b3b3" stroke="#8e8e8e" stroke-width="1"/>
<line x1="164.30" y1="739.27" x2="164.30" y2="731.73" stroke="#767676" stroke-width="1"/>
<line x1="161.50" y1="731.73" x2="167.10" y2="731.73" stroke="#8c8c8c" stroke-width="1"/>
<rect x="179.95" y="741.27" width="13.20" height="131.73" fill="#b3b3b3" stroke="#8e8e8e" stroke-width="1"/>
<line x1="186.55" y1="741.27" x2="186.55" y2="737.54" stroke="#767676" stroke-width="1"/>
<line x1="183.75" y1="737.54" x2="189.35" y2="737.54" stroke="#8c8c8c" stroke-width="1"/>
<rect x="202.20" y="750.02" width="13.20" height="122.98" fill="#b3b3b3" stroke="#8e8e8e" stroke-width="1"/>
<line x1="208.80" y1="750.02" x2="208.80" y2="745.51" stroke="#767676" stroke-width="1"/>
<line x1="206.00" y1="745.51" x2="211.60" y2="745.51" stroke="#8c8c8c" stroke-width="1"/>
<rect x="224.45" y="745.51" width="13.20" height="127.49" fill="#b3b3b3" stroke="#8e8e8e" stroke-width="1"/>
<line x1="231.05" y1="745.51" x2="231.05" y2="741.27" stroke="#767676" stroke-width="1"/>
<line x1="228.25" y1="741.27" x2="233.85" y2="741.27" stroke="#8c8c8c" stroke-width="1"/>
<rect x="30.80" y="717.00" width="222.50" height="156.00" fill="none" stroke="#9c9c9c" stroke-width="1"/>
<line x1="28.80" y1="873.00" x2="253.30" y2="873.00" stroke="#8a8a8a" stroke-width="1"/>
<line x1="28.80" y1="873.00" x2="30.80" y2="873.00" stroke="#9c9c9c" stroke-width="1"/>
<text x="25.60" y="875.30" font-size="6.6" text-anchor="end" stroke="#111" stroke-width="0.4" textLength="8.07" lengthAdjust="spacingAndGlyphs">0.0</text>
<line x1="28.80" y1="855.67" x2="30.80" y2="855.67" stroke="#9c9c9c" stroke-width="1"/>
<text x="25.60" y="857.97" font-size="6.6" text-anchor="end" stroke="#111" stroke-width="0.4" textLength="8.07" lengthAdjust="spacingAndGlyphs">0.2</text>
<line x1="28.80" y1="838.33" x2="30.80" y2="838.33" stroke="#9c9c9c" stroke-width="1"/>
<text x="25.60" y="840.63" font-size="6.6" text-anchor="end" stroke="#111" stroke-width="0.4" textLength="8.07" lengthAdjust="spacingAndGlyphs">0.4</text>
<line x1="28.80" y1="821.00" x2="30.80" y2="821.00" stroke="#9c9c9c" stroke-width="1"/>
<text x="25.60" y="823.30" font-size="6.6" text-anchor="end" stroke="#111" stroke-width="0.4" textLength="8.07" lengthAdjust="spacingAndGlyphs">0.6</text>
<line x1="28.80" y1="803.67" x2="30.80" y2="803.67" stroke="#9c9c9c" stroke-width="1"/>
<text x="25.60" y="805.97" font-size="6.6" text-anchor="end" stroke="#111" stroke-width="0.4" textLength="8.07" lengthAdjust="spacingAndGlyphs">0.8</text>
<line x1="28.80" y1="786.33" x2="30.80" y2="786.33" stroke="#9c9c9c" stroke-width="1"/>
<text x="25.60" y="788.63" font-size="6.6" text-anchor="end" stroke="#111" stroke-width="0.4" textLength="8.07" lengthAdjust="spacingAndGlyphs">1.0</text>
<line x1="28.80" y1="769.00" x2="30.80" y2="769.00" stroke="#9c9c9c" stroke-width="1"/>
<text x="25.60" y="771.30" font-size="6.6" text-anchor="end" stroke="#111" stroke-width="0.4" textLength="8.07" lengthAdjust="spacingAndGlyphs">1.2</text>
<line x1="28.80" y1="751.67" x2="30.80" y2="751.67" stroke="#9c9c9c" stroke-width="1"/>
<text x="25.60" y="753.97" font-size="6.6" text-anchor="end" stroke="#111" stroke-width="0.4" textLength="8.07" lengthAdjust="spacingAndGlyphs">1.4</text>
<line x1="28.80" y1="734.33" x2="30.80" y2="734.33" stroke="#9c9c9c" stroke-width="1"/>
<text x="25.60" y="736.63" font-size="6.6" text-anchor="end" stroke="#111" stroke-width="0.4" textLength="8.07" lengthAdjust="spacingAndGlyphs">1.6</text>
<line x1="28.80" y1="717.00" x2="30.80" y2="717.00" stroke="#9c9c9c" stroke-width="1"/>
<text x="25.60" y="719.30" font-size="6.6" text-anchor="end" stroke="#111" stroke-width="0.4" textLength="8.07" lengthAdjust="spacingAndGlyphs">1.8</text>
<line x1="53.05" y1="873.00" x2="53.05" y2="875.00" stroke="#a8a8a8" stroke-width="1"/>
<text x="53.05" y="884.30" font-size="6.0" text-anchor="middle" stroke="#222" stroke-width="0.12" font-weight="bold" fill="#222">HP1</text>
<line x1="75.30" y1="873.00" x2="75.30" y2="875.00" stroke="#a8a8a8" stroke-width="1"/>
<text x="75.30" y="884.30" font-size="6.0" text-anchor="middle" stroke="#222" stroke-width="0.12" font-weight="bold" fill="#222">HP2</text>
<line x1="97.55" y1="873.00" x2="97.55" y2="875.00" stroke="#a8a8a8" stroke-width="1"/>
<text x="97.55" y="884.30" font-size="6.0" text-anchor="middle" stroke="#222" stroke-width="0.12" font-weight="bold" fill="#222">HP4</text>
<line x1="119.80" y1="873.00" x2="119.80" y2="875.00" stroke="#a8a8a8" stroke-width="1"/>
<text x="119.80" y="884.30" font-size="6.0" text-anchor="middle" stroke="#222" stroke-width="0.12" font-weight="bold" fill="#222">HP5</text>
<line x1="142.05" y1="873.00" x2="142.05" y2="875.00" stroke="#a8a8a8" stroke-width="1"/>
<text x="142.05" y="884.30" font-size="6.0" text-anchor="middle" stroke="#222" stroke-width="0.12" font-weight="bold" fill="#222">HP6</text>
<line x1="164.30" y1="873.00" x2="164.30" y2="875.00" stroke="#a8a8a8" stroke-width="1"/>
<text x="164.30" y="884.30" font-size="6.0" text-anchor="middle" stroke="#222" stroke-width="0.12" font-weight="bold" fill="#222">HP8</text>
<line x1="186.55" y1="873.00" x2="186.55" y2="875.00" stroke="#a8a8a8" stroke-width="1"/>
<text x="186.55" y="884.30" font-size="6.0" text-anchor="middle" stroke="#222" stroke-width="0.12" font-weight="bold" fill="#222">HP9</text>
<line x1="208.80" y1="873.00" x2="208.80" y2="875.00" stroke="#a8a8a8" stroke-width="1"/>
<text x="208.80" y="884.30" font-size="6.0" text-anchor="middle" stroke="#222" stroke-width="0.12" font-weight="bold" fill="#222">HP10</text>
<line x1="231.05" y1="873.00" x2="231.05" y2="875.00" stroke="#a8a8a8" stroke-width="1"/>
<text x="231.05" y="884.30" font-size="6.0" text-anchor="middle" stroke="#222" stroke-width="0.12" font-weight="bold" fill="#222">HP11</text>
<text x="144.95" y="701.00" font-size="12.4" text-anchor="middle" stroke="#000" stroke-width="0.45" fill="#000" textLength="86.70" lengthAdjust="spacingAndGlyphs">B161 (Group E)</text>
<text x="141.55" y="899.90" font-size="9.6" text-anchor="middle" stroke="#000" stroke-width="0.4" fill="#000" textLength="45.70" lengthAdjust="spacingAndGlyphs">Constructs</text>
<text x="9.80" y="796.25" font-size="10.1" text-anchor="middle" stroke="#000" stroke-width="0.4" fill="#000" textLength="92.90" lengthAdjust="spacingAndGlyphs" transform="rotate(-90 9.80 796.25)">Absorbance (405 nm)</text>
</svg>
</body></html>
